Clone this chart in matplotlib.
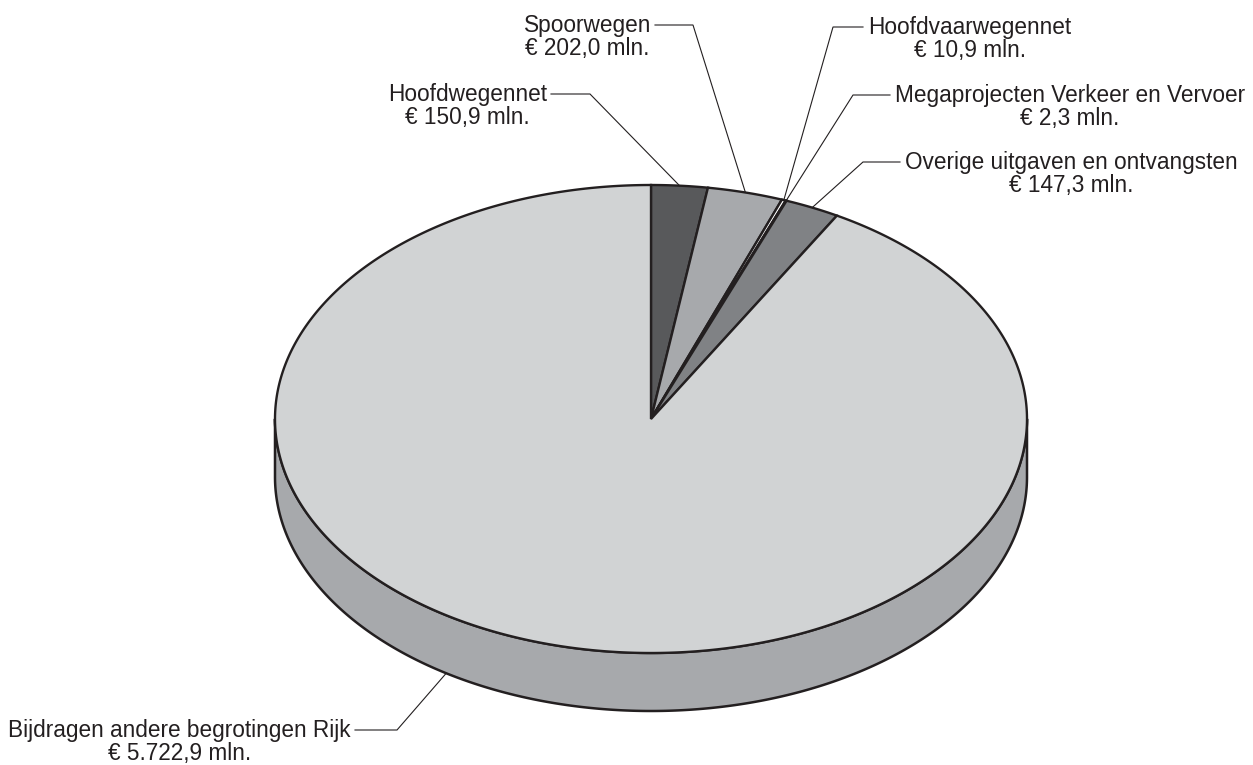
import numpy as np
import matplotlib

matplotlib.use("Agg")
import matplotlib.pyplot as plt
from matplotlib.patches import Polygon

# ---- data (mln euro) ---------------------------------------------------------
names = [
    "Hoofdwegennet",
    "Spoorwegen",
    "Hoofdvaarwegennet",
    "Megaprojecten Verkeer en Vervoer",
    "Overige uitgaven en ontvangsten",
    "Bijdragen andere begrotingen Rijk",
]
values = [150.9, 202.0, 10.9, 2.3, 147.3, 5722.9]
value_labels = [
    "€ 150,9 mln.",
    "€ 202,0 mln.",
    "€ 10,9 mln.",
    "€ 2,3 mln.",
    "€ 147,3 mln.",
    "€ 5.722,9 mln.",
]
top_colours = ["#58595b", "#a7a9ac", "#ffffff", "#231f20", "#808285", "#d1d3d4"]
side_colours = ["#3f4042", "#8a8c8f", "#e6e6e6", "#231f20", "#6a6c6f", "#a7a9ac"]

# ---- layout (pixels, y down) -------------------------------------------------
CX, CY, RX, RY, DEPTH = 651, 419, 376, 234, 58
INK = "#231f20"
# elbow of the leader line, end of the horizontal part, text side
elbows = [(590, 94), (693, 25), (833, 27), (853, 95), (863, 162), (397, 730)]
line_ends = [551, 655, 863, 890, 900, 355]
text_side = ["left", "left", "right", "right", "right", "left"]
# the big slice is labelled at the foot of the side wall, not at mid-angle
anchor_angle = [None, None, None, None, None, 237.0]

plt.rcParams["font.family"] = ["Liberation Sans", "DejaVu Sans"]


def ell(theta, dy=0.0):
    t = np.radians(theta)
    return CX + RX * np.cos(t), CY - RY * np.sin(t) + dy


def arc(a, b, dy=0.0, n=None):
    if n is None:
        n = max(3, int(abs(b - a) * 2))
    th = np.linspace(a, b, n)
    x, y = ell(th, dy)
    return np.column_stack([x, y])


fig = plt.figure(figsize=(12.53, 7.65), dpi=100)
ax = fig.add_axes([0, 0, 1, 1])
ax.set_xlim(0, 1253)
ax.set_ylim(765, 0)
ax.axis("off")

total = float(sum(values))
spans = [v / total * 360 for v in values]
starts = 90 - np.concatenate([[0], np.cumsum(spans)[:-1]])
ends = starts - np.array(spans)

# side wall: only the front half (sin < 0) is visible
for s, e, col in zip(starts, ends, side_colours):
    for k in (-360, 0):
        lo, hi = max(e, -180 + k), min(s, 0 + k)
        if hi > lo:
            pts = np.vstack([arc(hi, lo), arc(lo, hi, DEPTH)])
            ax.add_patch(Polygon(pts, closed=True, facecolor=col, edgecolor=INK,
                                 linewidth=1.8, joinstyle="round"))

# top face
for s, e, col in zip(starts, ends, top_colours):
    pts = np.vstack([[CX, CY], arc(s, e)])
    ax.add_patch(Polygon(pts, closed=True, facecolor=col, edgecolor=INK,
                         linewidth=1.7, joinstyle="miter"))

# leader lines and labels
for i, name in enumerate(names):
    if anchor_angle[i] is None:
        mid = (starts[i] + ends[i]) / 2
        px, py = ell(mid)
    else:
        px, py = ell(anchor_angle[i], DEPTH)
    ex, ey = elbows[i]
    ax.plot([px, ex, line_ends[i]], [py, ey, ey], color=INK, linewidth=0.8,
            solid_joinstyle="miter")
    if text_side[i] == "left":
        tx, ha = line_ends[i] - 4, "right"
    else:
        tx, ha = line_ends[i] + 5, "left"
    ax.text(tx, ey + 12, name + "\n" + value_labels[i], ha=ha, va="center",
            multialignment="center", fontsize=16.3, color=INK, linespacing=1.03)

fig.savefig("out.png", dpi=100)
